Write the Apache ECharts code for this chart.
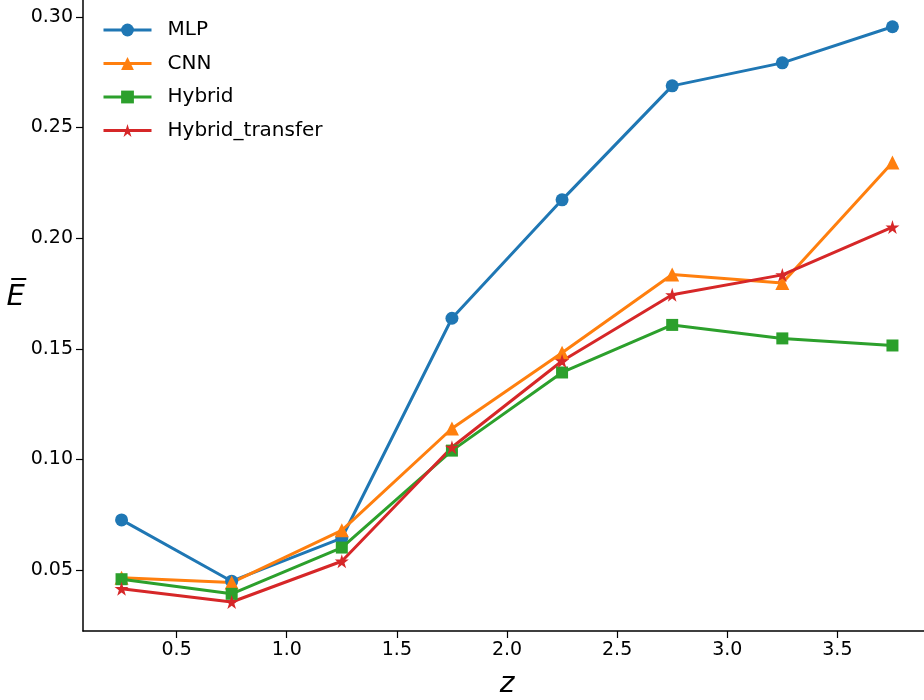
<!DOCTYPE html>
<html>
<head>
<meta charset="utf-8">
<script src="https://cdn.jsdelivr.net/npm/echarts@6/dist/echarts.min.js"></script>
<style>
html,body{margin:0;padding:0;background:#fff;}
#chart{width:924px;height:700px;}
</style>
</head>
<body>
<div id="chart"></div>
<script>
var zValues = [0.25, 0.75, 1.25, 1.75, 2.25, 2.75, 3.25, 3.75];
var mlp = [0.0727, 0.0450, 0.0645, 0.1638, 0.2173, 0.2688, 0.2792, 0.2955];
var cnn = [0.0466, 0.0444, 0.0680, 0.1140, 0.1482, 0.1836, 0.1797, 0.2342];
var hybrid = [0.0459, 0.0393, 0.0602, 0.1040, 0.1393, 0.1608, 0.1547, 0.1515];
var hybridTransfer = [0.0416, 0.0356, 0.0540, 0.1055, 0.1445, 0.1744, 0.1834, 0.2050];
var xTicks = [0.5, 1.0, 1.5, 2.0, 2.5, 3.0, 3.5];
var yTicks = [0.05, 0.10, 0.15, 0.20, 0.25, 0.30];
var seriesNames = ['MLP', 'CNN', 'Hybrid', 'Hybrid_transfer'];
var colors = ['#1f77b4', '#ff7f0e', '#2ca02c', '#d62728'];

var starPath = 'path://M50,0 L61.2,34.5 L97.6,34.5 L68.2,55.9 L79.4,90.5 L50,69.1 L20.6,90.5 L31.8,55.9 L2.4,34.5 L38.8,34.5 Z';
var symbols = ['circle', 'triangle', 'rect', starPath];
var symbolSizes = [13, 14, 12, 14];
var allData = [mlp, cnn, hybrid, hybridTransfer];

function pairs(arr) {
  return zValues.map(function (z, i) { return [z, arr[i]]; });
}

var font = 'DejaVu Sans';
var chart = echarts.init(document.getElementById('chart'));
chart.setOption({
  animation: false,
  backgroundColor: '#ffffff',
  color: colors,
  grid: { left: 83, width: 848, top: -2, height: 633, containLabel: false, outerBoundsMode: 'none' },
  legend: {
    orient: 'vertical',
    left: 102,
    top: 20,
    padding: 0,
    itemWidth: 48,
    itemHeight: 16,
    itemGap: 13.5,
    lineStyle: { width: 3 },
    textStyle: { fontFamily: font, fontSize: 20, color: '#000', lineHeight: 20, padding: [0, 0, 0, 11] },
    data: seriesNames
  },
  xAxis: {
    type: 'value',
    min: 0.075,
    max: 3.925,
    name: 'z',
    nameLocation: 'middle',
    nameGap: 40,
    nameTextStyle: { fontFamily: font, fontSize: 28, fontStyle: 'italic', color: '#000' },
    axisLine: { show: true, onZero: false, lineStyle: { color: '#000', width: 1.5 } },
    axisTick: { show: true, length: 7, lineStyle: { color: '#000', width: 1.2 }, customValues: xTicks },
    axisLabel: {
      fontFamily: font, fontSize: 19, color: '#000', margin: 10,
      customValues: xTicks,
      formatter: function (v) { return v.toFixed(1); }
    },
    splitLine: { show: false }
  },
  yAxis: {
    type: 'value',
    min: 0.0225,
    max: 0.3085,
    name: 'E\u0305\n ',
    nameLocation: 'middle',
    nameRotate: 0,
    nameGap: 54,
    nameTextStyle: { fontFamily: font, fontSize: 29, fontStyle: 'italic', color: '#000', lineHeight: 34 },
    axisLine: { show: true, onZero: false, lineStyle: { color: '#000', width: 1.5 } },
    axisTick: { show: true, length: 7, lineStyle: { color: '#000', width: 1.2 }, customValues: yTicks },
    axisLabel: {
      fontFamily: font, fontSize: 19, color: '#000', margin: 10,
      customValues: yTicks,
      formatter: function (v) { return v.toFixed(2); }
    },
    splitLine: { show: false }
  },
  series: seriesNames.map(function (n, i) {
    return {
      name: n,
      type: 'line',
      data: pairs(allData[i]),
      symbol: symbols[i],
      symbolSize: symbolSizes[i],
      showAllSymbol: true,
      lineStyle: { width: 3, color: colors[i] },
      itemStyle: { color: colors[i], borderWidth: 0 },
      emphasis: { disabled: true }
    };
  })
});
</script>
</body>
</html>
